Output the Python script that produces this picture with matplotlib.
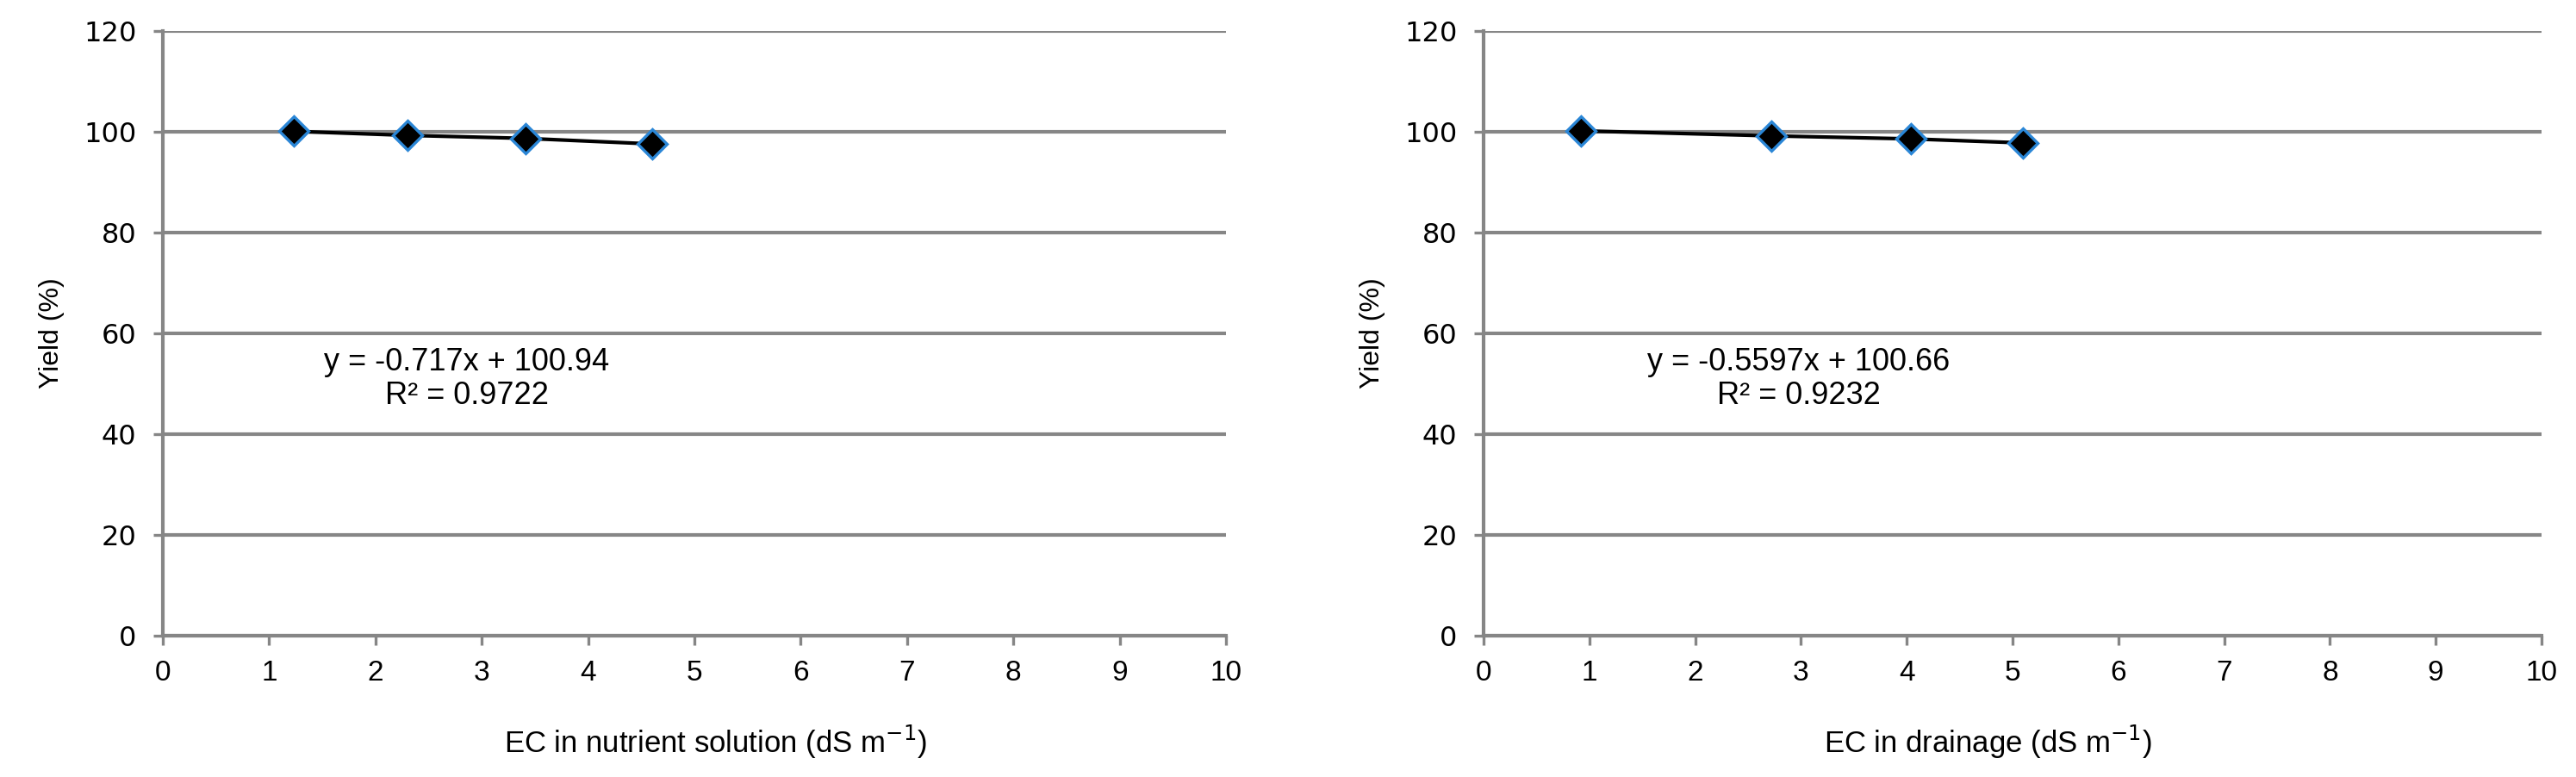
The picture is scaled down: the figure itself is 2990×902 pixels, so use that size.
import matplotlib
matplotlib.use("Agg")
import matplotlib.pyplot as plt

# nutrient solution panel
ec_solution = [1.23, 2.30, 3.41, 4.60]
yield_solution = [100.1, 99.3, 98.7, 97.6]
eq_solution = "y = -0.717x + 100.94\nR² = 0.9722"

# drainage panel
ec_drainage = [0.92, 2.72, 4.04, 5.10]
yield_drainage = [100.2, 99.2, 98.6, 97.8]
eq_drainage = "y = -0.5597x + 100.66\nR² = 0.9232"

xticks = list(range(0, 11))
yticks = list(range(0, 121, 20))

GRAY = "#868686"
EDGE = "#2a86d6"

plt.rcParams["font.family"] = ["Liberation Sans", "DejaVu Sans"]

fig = plt.figure(figsize=(29.9, 9.02), dpi=100)
ax1 = fig.add_axes([0.0632, 0.182, 0.4127, 0.778])
ax2 = fig.add_axes([0.5759, 0.182, 0.4107, 0.778])


def draw_panel(ax, x, y, eq, eq_x, xlabel, xlab_pos):
    ax.plot(x, y, "-", color="black", lw=3.0, zorder=3)
    ax.plot(x, y, "D", color="black", markersize=17, markeredgecolor=EDGE,
            markeredgewidth=2.4, zorder=4)
    ax.set_xlim(0, 10)
    ax.set_ylim(0, 120)
    ax.set_xticks(xticks)
    ax.set_yticks(yticks)
    ax.grid(axis="y", color=GRAY, lw=3.0)
    ax.set_axisbelow(True)
    for s in ["top", "right"]:
        ax.spines[s].set_visible(False)
    for s in ["left", "bottom"]:
        ax.spines[s].set_color(GRAY)
        ax.spines[s].set_linewidth(3.0)
    ax.tick_params(axis="both", direction="out", color=GRAY, width=2.4,
                   length=8)
    ax.tick_params(axis="x", labelsize=24, pad=12)
    ax.tick_params(axis="y", labelsize=23, pad=14)
    for lab in ax.get_yticklabels():
        lab.set_family("DejaVu Sans")
    ax.set_xlabel(xlabel, fontsize=25)
    ax.xaxis.set_label_coords(xlab_pos, -0.145)
    ax.set_ylabel("Yield (%)", fontsize=23, labelpad=16)
    ax.text(eq_x, 51, eq, ha="center", va="center", fontsize=26,
            linespacing=1.15)


draw_panel(ax1, ec_solution, yield_solution, eq_solution, 2.86,
           "EC in nutrient solution (dS m$^{-1}$)", 0.52)
draw_panel(ax2, ec_drainage, yield_drainage, eq_drainage, 2.98,
           "EC in drainage (dS m$^{-1}$)", 0.477)

fig.savefig("out.png", dpi=100, facecolor="white")
